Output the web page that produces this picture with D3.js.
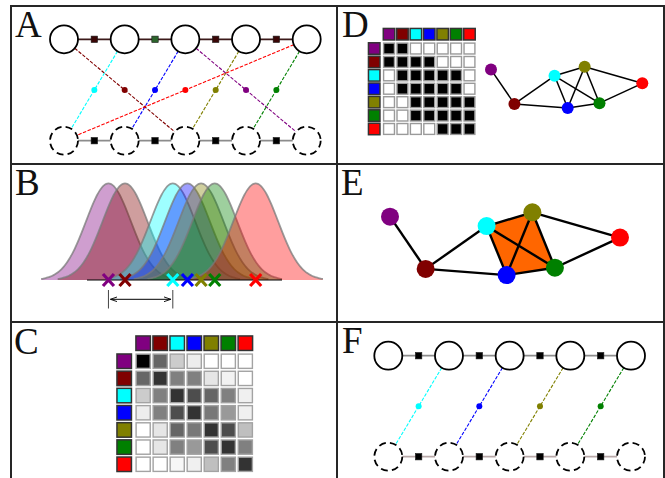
<!DOCTYPE html>
<html><head><meta charset="utf-8">
<script src="https://cdn.jsdelivr.net/npm/d3@7"></script>
<style>body{margin:0;background:#fff}svg{display:block}</style>
</head><body>
<svg id="chart" width="665" height="478"></svg>
<script>
// ---- shared node identities ----
const nodeNames  = ["purple", "maroon", "cyan", "blue", "olive", "green", "red"];
const nodeColors = ["#800080", "#800000", "#00ffff", "#0000ff", "#808000", "#008000", "#ff0000"];

// ---- A / F: two chains of five positions, links top position -> bottom position ----
const chainPositions = [0, 1, 2, 3, 4];
const linksA = [
  {node: "maroon", from: 0, to: 2},
  {node: "cyan",   from: 1, to: 0},
  {node: "blue",   from: 2, to: 1},
  {node: "red",    from: 4, to: 0},
  {node: "olive",  from: 3, to: 2},
  {node: "purple", from: 2, to: 4},
  {node: "green",  from: 4, to: 3}
];
const linksF = [
  {node: "cyan",  from: 1, to: 0},
  {node: "blue",  from: 2, to: 1},
  {node: "olive", from: 3, to: 2},
  {node: "green", from: 4, to: 3}
];
const topSquaresA = ["#3a0606", "#2c642c", "#3a0606", "#3a0606"];

// ---- B: one gaussian per node ----
const means = [1.1, 1.95, 4.4, 5.15, 5.85, 6.55, 8.65];
const sigma = 1.15;

// ---- C: graded similarity (1 = black) ----
const similarity = [
  [1.00, 0.60, 0.20, 0.07, 0.00, 0.00, 0.00],
  [0.60, 0.80, 0.50, 0.50, 0.10, 0.05, 0.00],
  [0.20, 0.50, 0.80, 0.70, 0.60, 0.50, 0.06],
  [0.07, 0.50, 0.70, 0.80, 0.53, 0.40, 0.06],
  [0.00, 0.10, 0.60, 0.53, 0.80, 0.70, 0.25],
  [0.00, 0.10, 0.50, 0.40, 0.70, 0.80, 0.50],
  [0.00, 0.00, 0.03, 0.06, 0.25, 0.50, 0.80]
];

// ---- D: binary adjacency ----
const adjacency = [
  [1, 1, 0, 0, 0, 0, 0],
  [1, 1, 1, 1, 0, 0, 0],
  [0, 1, 1, 1, 1, 1, 0],
  [0, 1, 1, 1, 1, 1, 0],
  [0, 0, 1, 1, 1, 1, 1],
  [0, 0, 1, 1, 1, 1, 1],
  [0, 0, 0, 0, 1, 1, 1]
];

// ---- D / E: graph layout (abstract units) and highlighted clique ----
const layoutX = [0, 15.5, 42, 50.7, 61.9, 71.7, 100];
const layoutY = [1.9, 24.6, 6, 27.3, 0, 24.1, 11.0];
const clique  = ["cyan", "olive", "green", "blue"];

const panelLabels = ["A", "B", "C", "D", "E", "F"];

const svg = d3.select("#chart");
const idx = name => nodeNames.indexOf(name);
const colorOf = name => nodeColors[idx(name)];

// ---------- panel frame ----------
const frame = svg.append("g").attr("stroke", "#262626").attr("stroke-width", 2).attr("fill", "none");
frame.append("rect").attr("x", 11).attr("y", 6).attr("width", 653).attr("height", 480);
frame.append("line").attr("x1", 337).attr("x2", 337).attr("y1", 6).attr("y2", 480);
frame.append("line").attr("x1", 11).attr("x2", 664).attr("y1", 164).attr("y2", 164);
frame.append("line").attr("x1", 11).attr("x2", 664).attr("y1", 322).attr("y2", 322);

const labelPos = {A: [15, 37], B: [15, 195], C: [14, 354], D: [342, 37], E: [341, 195], F: [342, 353]};
svg.append("g").selectAll("text").data(panelLabels).join("text")
  .attr("x", d => labelPos[d][0]).attr("y", d => labelPos[d][1])
  .attr("font-family", "Liberation Serif, serif").attr("font-size", 37).attr("fill", "#111")
  .text(d => d);

// ---------- chain diagrams (A, F) ----------
function drawChain(g, x, yTop, yBot, r, links, o) {
  const rows = [
    {y: yTop, line: o.topLine, squares: o.topSquares, dashed: false},
    {y: yBot, line: o.botLine, squares: o.botSquares, dashed: true}
  ];
  rows.forEach(row => {
    const segs = chainPositions.slice(0, -1);
    g.append("g").selectAll("line").data(segs).join("line")
      .attr("x1", d => x(d) + r).attr("x2", d => x(d + 1) - r)
      .attr("y1", row.y).attr("y2", row.y)
      .attr("stroke", row.line).attr("stroke-width", 1.8);
    g.append("g").selectAll("rect").data(segs).join("rect")
      .attr("x", d => (x(d) + x(d + 1)) / 2 - 3.2).attr("y", row.y - 3.2)
      .attr("width", 6.4).attr("height", 6.4)
      .attr("fill", (d, i) => row.squares[i]).attr("stroke", "#1a1a1a").attr("stroke-width", 0.6);
  });
  const lg = g.append("g");
  links.forEach(l => {
    const x1 = x(l.from), y1 = yTop, x2 = x(l.to), y2 = yBot;
    const len = Math.hypot(x2 - x1, y2 - y1), ux = (x2 - x1) / len, uy = (y2 - y1) / len;
    lg.append("line")
      .attr("x1", x1 + ux * r).attr("y1", y1 + uy * r)
      .attr("x2", x2 - ux * r).attr("y2", y2 - uy * r)
      .attr("stroke", colorOf(l.node)).attr("stroke-width", 1.1)
      .attr("stroke-dasharray", "3.5,1.5");
    lg.append("circle").attr("cx", (x1 + x2) / 2).attr("cy", (y1 + y2) / 2).attr("r", 3)
      .attr("fill", colorOf(l.node));
  });
  rows.forEach(row => {
    g.append("g").selectAll("circle").data(chainPositions).join("circle")
      .attr("cx", d => x(d)).attr("cy", row.y).attr("r", r)
      .attr("fill", "none").attr("stroke", "#000").attr("stroke-width", 1.8)
      .attr("stroke-dasharray", row.dashed ? "7,4.2" : null);
  });
}

const xA = d3.scalePoint().domain(chainPositions).range([64, 306.7]);
drawChain(svg.append("g"), xA, 39.3, 140.7, 14, linksA, {
  topLine: "#3c1a1a", topSquares: topSquaresA,
  botLine: "#8c8c8c", botSquares: ["#000", "#000", "#000", "#000"]
});
const xF = d3.scalePoint().domain(chainPositions).range([388.3, 631]);
drawChain(svg.append("g"), xF, 355.7, 456.7, 14, linksF, {
  topLine: "#8c8c8c", topSquares: ["#000", "#000", "#000", "#000"],
  botLine: "#b9a9a9", botSquares: ["#000", "#000", "#000", "#000"]
});

// ---------- B: gaussians ----------
const xB = d3.scaleLinear().domain([0, 10]).range([87, 282]);
const yB = d3.scaleLinear().domain([0, 1]).range([280, 183.3]);
const gB = svg.append("g");
const area = d3.area().x(d => xB(d[0])).y0(yB(0)).y1(d => yB(d[1])).curve(d3.curveBasis);
const line = d3.line().x(d => xB(d[0])).y(d => yB(d[1])).curve(d3.curveBasis);
means.forEach((m, i) => {
  const pts = d3.range(-3, 3.001, 0.1).map(z => [m + z * sigma, Math.exp(-0.5 * z * z)]);
  gB.append("path").attr("d", area(pts)).attr("fill", nodeColors[i]).attr("fill-opacity", 0.38);
  gB.append("path").attr("d", line(pts)).attr("fill", "none")
    .attr("stroke", "#7a7a7a").attr("stroke-opacity", 0.75).attr("stroke-width", 1.8);
});
gB.append("line").attr("x1", xB(0)).attr("x2", xB(10)).attr("y1", yB(0)).attr("y2", yB(0))
  .attr("stroke", "#000").attr("stroke-width", 1.2);
gB.append("g").selectAll("path").data(means).join("path")
  .attr("transform", d => `translate(${xB(d)},${yB(0)})`)
  .attr("d", "M-5.5,-6L5.5,6M-5.5,6L5.5,-6")
  .attr("stroke", (d, i) => nodeColors[i]).attr("stroke-width", 3.2).attr("fill", "none");
// distance between the first and third means
const defs = svg.append("defs");
defs.append("marker").attr("id", "ah").attr("viewBox", "0 0 10 10").attr("refX", 10).attr("refY", 5)
  .attr("markerWidth", 7).attr("markerHeight", 7).attr("orient", "auto-start-reverse")
  .append("path").attr("d", "M0,1.5L10,5L0,8.5").attr("fill", "none").attr("stroke", "#000").attr("stroke-width", 1.3);
[means[0], means[2]].forEach(m => {
  gB.append("line").attr("x1", xB(m)).attr("x2", xB(m)).attr("y1", 290).attr("y2", 308.5)
    .attr("stroke", "#444").attr("stroke-width", 1);
});
gB.append("line").attr("x1", xB(means[0]) + 2).attr("x2", xB(means[2]) - 2).attr("y1", 299.3).attr("y2", 299.3)
  .attr("stroke", "#000").attr("stroke-width", 1)
  .attr("marker-start", "url(#ah)").attr("marker-end", "url(#ah)");

// ---------- matrices (C, D) ----------
function drawMatrix(g, values, fill, xr, yr, headerY, headerX, hs, cellStroke) {
  const bx = d3.scaleBand().domain(d3.range(7)).range(xr).paddingInner(0.1);
  const by = d3.scaleBand().domain(d3.range(7)).range(yr).paddingInner(0.1);
  g.append("g").selectAll("rect").data(nodeColors).join("rect")
    .attr("x", (d, i) => bx(i) + bx.bandwidth() / 2 - hs / 2).attr("y", headerY - hs / 2)
    .attr("width", hs).attr("height", hs).attr("fill", d => d).attr("stroke", "#333").attr("stroke-width", 1.5);
  g.append("g").selectAll("rect").data(nodeColors).join("rect")
    .attr("x", headerX - hs / 2).attr("y", (d, i) => by(i) + by.bandwidth() / 2 - hs / 2)
    .attr("width", hs).attr("height", hs).attr("fill", d => d).attr("stroke", "#333").attr("stroke-width", 1.5);
  const cells = values.flatMap((row, i) => row.map((v, j) => ({i, j, v})));
  g.append("g").selectAll("rect").data(cells).join("rect")
    .attr("x", d => bx(d.j) + 0.6).attr("y", d => by(d.i) + 0.6)
    .attr("width", bx.bandwidth() - 1.2).attr("height", by.bandwidth() - 1.2)
    .attr("fill", d => fill(d.v)).attr("stroke", cellStroke).attr("stroke-width", 1.4);
}
const grey = d3.scaleLinear().domain([0, 1]).range(["#ffffff", "#000000"]);
drawMatrix(svg.append("g"), similarity, grey, [135.5, 253], [353.5, 472], 343.2, 124.2, 14.5, "#a3a3a3");
drawMatrix(svg.append("g"), adjacency, v => v ? "#000" : "#fff", [383, 475.5], [42.5, 135], 34.2, 374.2, 11.5, "#9a9a9a");

// ---------- graphs (D, E) ----------
const edges = [];
adjacency.forEach((row, i) => row.forEach((v, j) => { if (v && j > i) edges.push([i, j]); }));
function drawGraph(g, x, y, r, sw, withClique) {
  if (withClique) {
    g.append("polygon")
      .attr("points", clique.map(n => [x(layoutX[idx(n)]), y(layoutY[idx(n)])].join(",")).join(" "))
      .attr("fill", "#ff6600");
  }
  g.append("g").selectAll("line").data(edges).join("line")
    .attr("x1", d => x(layoutX[d[0]])).attr("y1", d => y(layoutY[d[0]]))
    .attr("x2", d => x(layoutX[d[1]])).attr("y2", d => y(layoutY[d[1]]))
    .attr("stroke", "#000").attr("stroke-width", sw);
  g.append("g").selectAll("circle").data(nodeColors).join("circle")
    .attr("cx", (d, i) => x(layoutX[i])).attr("cy", (d, i) => y(layoutY[i]))
    .attr("r", r).attr("fill", d => d);
}
drawGraph(svg.append("g"),
  d3.scaleLinear().domain([0, 100]).range([491, 642.3]),
  d3.scaleLinear().domain([0, 27.3]).range([66.7, 108]), 6, 1.5, false);
drawGraph(svg.append("g"),
  d3.scaleLinear().domain([0, 100]).range([390, 620]),
  d3.scaleLinear().domain([0, 27.3]).range([212.3, 275.1]), 9, 2.4, true);
</script>
</body></html>
